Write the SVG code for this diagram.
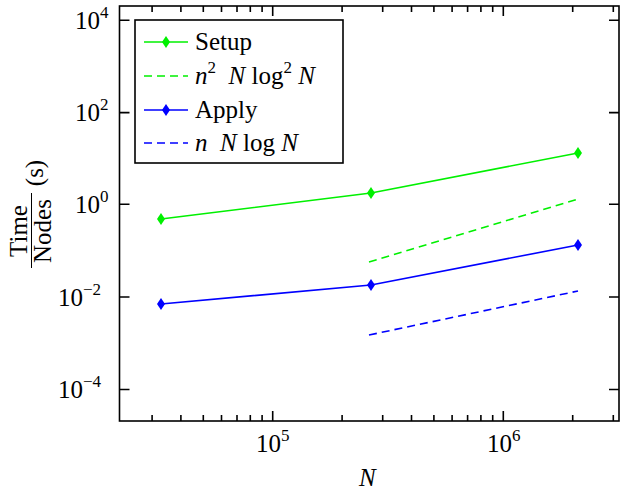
<svg xmlns="http://www.w3.org/2000/svg" width="622" height="497" viewBox="0 0 622 497">
<style>
text{font-family:"Liberation Serif","DejaVu Serif",serif;font-size:25px;fill:#000}
.i{font-style:italic}
.s{font-size:17px}
.ax{fill:none;stroke:#000;stroke-width:1.6}
.g{stroke:#00f000;fill:none;stroke-width:1.6}
.b{stroke:#0000ff;fill:none;stroke-width:1.6}
.d{stroke-dasharray:8,5}
</style>
<defs>
<path id="dm" d="M0,-6L4,0L0,6L-4,0Z"/>
</defs>
<rect x="0" y="0" width="622" height="497" fill="#fff"/>
<g id="axes" class="ax">
<rect x="119.5" y="6" width="499.5" height="415"/>
<path d="M119.5,20.3h10M119.5,112.6h10M119.5,204.3h10M119.5,297h10M119.5,389.5h10M619,20.3h-10M619,112.6h-10M619,204.3h-10M619,297h-10M619,389.5h-10"/>
<path d="M272.7,421v-10M503.3,421v-10M272.7,6v10M503.3,6v10"/>
<path d="M152.1,421v-6M180.9,421v-6M203.3,421v-6M221.5,421v-6M237,421v-6M250.3,421v-6M262.1,421v-6M342.1,421v-6M382.7,421v-6M411.5,421v-6M433.9,421v-6M452.1,421v-6M467.6,421v-6M480.9,421v-6M492.7,421v-6M572.7,421v-6M613.3,421v-6"/>
<path d="M152.1,6v6M180.9,6v6M203.3,6v6M221.5,6v6M237,6v6M250.3,6v6M262.1,6v6M342.1,6v6M382.7,6v6M411.5,6v6M433.9,6v6M452.1,6v6M467.6,6v6M480.9,6v6M492.7,6v6M572.7,6v6M613.3,6v6"/>
</g>
<g id="ticklabels">
<text x="75" y="29">10<tspan class="s" dy="-11">4</tspan></text>
<text x="75" y="121">10<tspan class="s" dy="-11">2</tspan></text>
<text x="75" y="213">10<tspan class="s" dy="-11">0</tspan></text>
<text x="58" y="306">10<tspan class="s" dy="-11">−2</tspan></text>
<text x="58" y="398">10<tspan class="s" dy="-11">−4</tspan></text>
<text x="256" y="452">10<tspan class="s" dy="-11">5</tspan></text>
<text x="487" y="452">10<tspan class="s" dy="-11">6</tspan></text>
<text x="359" y="486" class="i">N</text>
</g>
<g id="ylabel">
<text transform="translate(27,231) rotate(-90)" text-anchor="middle" font-size="25">Time</text>
<line x1="31.5" y1="193" x2="31.5" y2="268" stroke="#000" stroke-width="1"/>
<text transform="translate(51,231) rotate(-90)" text-anchor="middle" font-size="25">Nodes</text>
<text transform="translate(43,173) rotate(-90)" text-anchor="middle" font-size="25">(s)</text>
</g>
<g id="connectors">
<polyline class="g" points="161,219 371,193 578,153"/>
<polyline class="g d" points="369,262 578,199"/>
<polyline class="b" points="161,304 371,285 578,245"/>
<polyline class="b d" points="369,335 578,291"/>
</g>
<g id="setup-markers" fill="#00f000">
<use href="#dm" x="161" y="219"/><use href="#dm" x="371" y="193"/><use href="#dm" x="578" y="153"/>
</g>
<g id="apply-markers" fill="#0000ff">
<use href="#dm" x="161" y="304"/><use href="#dm" x="371" y="285"/><use href="#dm" x="578" y="245"/>
</g>
<g id="legend">
<rect x="135" y="20" width="208" height="143" fill="#fff" stroke="#000" stroke-width="1.6"/>
<line class="g" x1="144" y1="42" x2="188" y2="42"/><use href="#dm" x="166" y="42" fill="#00f000"/>
<text x="195" y="50">Setup</text>
<line class="g d" x1="144" y1="76" x2="188" y2="76"/>
<text x="195" y="84"><tspan class="i">n</tspan><tspan class="s" dy="-11">2</tspan><tspan dy="11" xml:space="preserve">  </tspan><tspan class="i">N</tspan> log<tspan class="s" dy="-11">2</tspan><tspan dy="11"> </tspan><tspan class="i">N</tspan></text>
<line class="b" x1="144" y1="110" x2="188" y2="110"/><use href="#dm" x="166" y="110" fill="#0000ff"/>
<text x="195" y="118">Apply</text>
<line class="b d" x1="144" y1="143" x2="188" y2="143"/>
<text x="195" y="151" xml:space="preserve"><tspan class="i">n</tspan>  <tspan class="i">N</tspan> log <tspan class="i">N</tspan></text>
</g>
</svg>
